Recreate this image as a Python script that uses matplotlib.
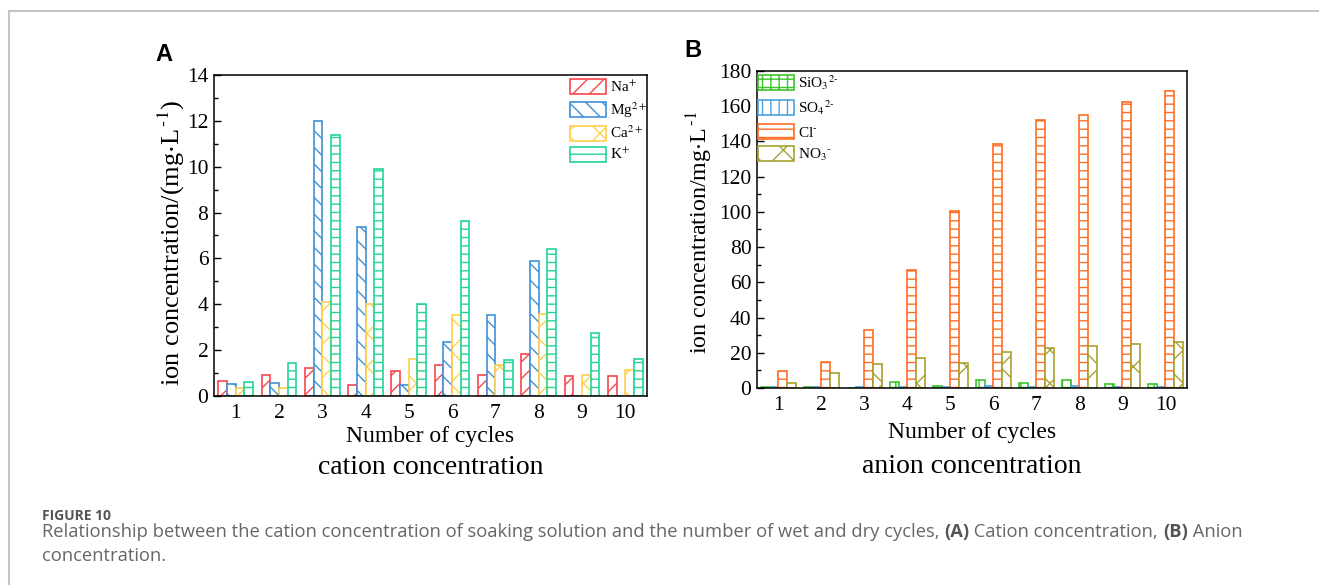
import numpy as np
import matplotlib
matplotlib.use("Agg")
import matplotlib.pyplot as plt
from matplotlib.lines import Line2D
from matplotlib.ticker import MultipleLocator

plt.rcParams['font.family'] = ['Liberation Serif', 'DejaVu Serif']
plt.rcParams['mathtext.fontset'] = 'stix'
plt.rcParams['hatch.linewidth'] = 1.0

cycles = np.arange(1, 11)

# cation concentration (mg/L)
na = [0.64, 0.93, 1.2, 0.5, 1.07, 1.37, 0.92, 1.85, 0.85, 0.85]
mg = [0.53, 0.58, 12.0, 7.35, 0.5, 2.35, 3.55, 5.87, 0.0, 0.0]
ca = [0.37, 0.37, 4.1, 4.03, 1.6, 3.55, 1.37, 3.57, 0.93, 1.12]
k = [0.61, 1.46, 11.37, 9.9, 4.0, 7.65, 1.55, 6.4, 2.75, 1.6]

# anion concentration (mg/L)
sio3 = [0.3, 0.8, 0.2, 3.4, 1.1, 4.7, 2.6, 4.5, 2.3, 2.3]
so4 = [0.3, 0.3, 0.3, 0.8, 0.3, 1.2, 0.4, 1.0, 0.4, 0.5]
cl = [9.8, 14.9, 32.7, 67.1, 100.6, 138.8, 152.4, 155.0, 162.6, 168.8]
no3 = [3.0, 8.7, 13.6, 17.0, 14.2, 20.6, 22.7, 23.8, 24.8, 26.1]

cation_labels = ['Na$^{+}$', 'Mg$^{2+}$', 'Ca$^{2+}$', 'K$^{+}$']
anion_labels = ['SiO$_3$$^{2\u2010}$', 'SO$_4$$^{2\u2010}$', 'Cl$^{\u2010}$', 'NO$_3$$^{\u2010}$']

fig = plt.figure(figsize=(13.19, 5.85), dpi=100)

# page frame lines
fig.add_artist(Line2D([9/1319, 1], [1 - 11/585, 1 - 11/585], color='#c4c4c4', lw=1.5))
fig.add_artist(Line2D([9/1319, 9/1319], [0, 1 - 11/585], color='#c4c4c4', lw=1.5))

w = 0.2
offs = [-0.3, -0.1, 0.1, 0.3]


def draw_panel(ax, data, labels, colors, hatches, ymax, major, minor,
               ylabel, ysize, ylab_x, ylab_y, xlab_y, title, title_y, letter, letter_x,
               leg_anchor, leg_space):
    for i in range(4):
        ax.bar(cycles + offs[i], data[i], width=w, facecolor='white', edgecolor=colors[i],
               hatch=hatches[i], linewidth=1.2, label=labels[i])
    ax.set_xlim(0.5, 10.5)
    ax.set_ylim(0, ymax)
    ax.set_xticks(cycles)
    ax.yaxis.set_major_locator(MultipleLocator(major))
    ax.yaxis.set_minor_locator(MultipleLocator(minor))
    ax.tick_params(axis='y', which='major', direction='in', length=5, width=1, labelsize=15.5, pad=4)
    ax.tick_params(axis='y', which='minor', direction='in', length=3, width=1)
    ax.tick_params(axis='x', length=0, labelsize=15.5, pad=6)
    for s in ax.spines.values():
        s.set_linewidth(1.1)
    ax.set_xlabel('Number of cycles', fontsize=17, va='center')
    ax.xaxis.set_label_coords(0.5, xlab_y)
    ax.set_ylabel(ylabel, fontsize=ysize, va='center')
    ax.yaxis.set_label_coords(ylab_x, ylab_y)
    ax.text(0.5, title_y, title, transform=ax.transAxes, ha='center', va='center', fontsize=20)
    ax.text(letter_x, 1.063, letter, transform=ax.transAxes, ha='left', va='center',
            fontsize=17, fontweight='bold', family='Liberation Sans')
    ax.legend(loc='upper left', bbox_to_anchor=leg_anchor, frameon=False, fontsize=11,
              handlelength=2.35, handleheight=1.15, labelspacing=leg_space,
              handletextpad=0.3, borderpad=0, borderaxespad=0)


ax1 = fig.add_axes([0.1622, 0.3231, 0.3283, 0.5487])
draw_panel(ax1, [na, mg, ca, k], cation_labels,
           ['#f8464e', '#3f90d6', '#ffd04c', '#20d598'],
           ['//', '\\\\', 'x', '--'], 14, 2, 1,
           'ion concentration/(mg$\\cdot$L$^{\\,\\text{-}1}$)', 19, -0.097, 0.477, -0.127,
           'cation concentration', -0.224, 'A', -0.136,
           (0.822, 0.9875), 0.34)

ax2 = fig.add_axes([0.5739, 0.3368, 0.3260, 0.5419])
draw_panel(ax2, [sio3, so4, cl, no3], anion_labels,
           ['#3cc32a', '#4ca2e0', '#ff6c22', '#a7a231'],
           ['++', '||', '--', 'x'], 180, 20, 10,
           'ion concentration/mg$\\cdot$L$^{\\,\\text{-}1}$', 17.3, -0.133, 0.49, -0.139,
           'anion concentration', -0.249, 'B', -0.17,
           (0.002, 0.9937), 0.44)

# caption
cap_font = ['Open Sans', 'DejaVu Sans']
cap_col = '#666666'
fig.text(42/1319, 1 - 520/585, 'FIGURE 10', family=cap_font, fontsize=10,
         fontweight='bold', color='#555555', va='baseline')

renderer = fig.canvas.get_renderer()
pieces = [('Relationship between the cation concentration of soaking solution and the number of wet and dry cycles, ', 'normal'),
          ('(A)', 'bold'), (' Cation concentration, ', 'normal'), ('(B)', 'bold'), (' Anion', 'normal')]
x = 42 / 1319
for txt, wt in pieces:
    t = fig.text(x, 1 - 537/585, txt, family=cap_font, fontsize=13.2, fontweight=wt,
                 color=cap_col if wt == 'normal' else '#555555', va='baseline')
    bb = t.get_window_extent(renderer)
    x = bb.x1 / fig.bbox.width
fig.text(42/1319, 1 - 561/585, 'concentration.', family=cap_font, fontsize=13.2,
         color=cap_col, va='baseline')

fig.savefig('out.png', dpi=100)
